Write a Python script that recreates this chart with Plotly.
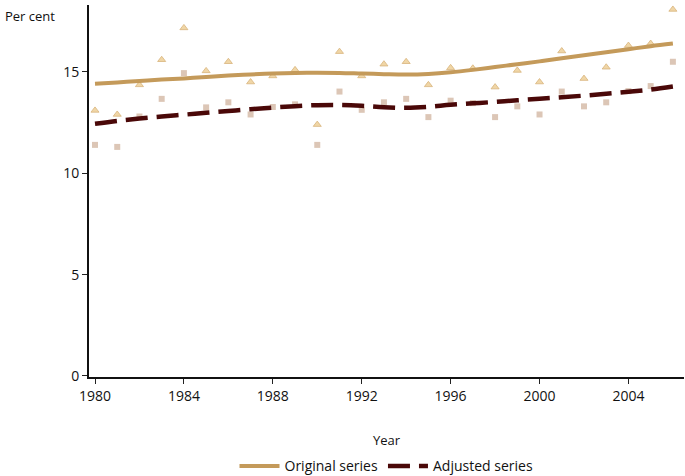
import plotly.graph_objects as go

years = list(range(1980, 2007))
original_points = [13.1, 12.9, 14.36, 15.6, 17.17, 15.05, 15.5, 14.5, 14.8, 15.1,
                   12.4, 16.0, 14.8, 15.38, 15.5, 14.36, 15.2, 15.18, 14.25, 15.07,
                   14.5, 16.03, 14.67, 15.23, 16.3, 16.4, 18.08]
adjusted_points = [11.4, 11.3, 12.8, 13.67, 14.94, 13.25, 13.5, 12.9, 13.27, 13.4,
                   11.4, 14.03, 13.13, 13.5, 13.67, 12.77, 13.58, 13.46, 12.77, 13.3,
                   12.9, 14.03, 13.3, 13.5, 14.05, 14.3, 15.5]
original_trend = [14.42, 14.48, 14.55, 14.62, 14.68, 14.75, 14.82, 14.87, 14.92, 14.95,
                  14.96, 14.95, 14.92, 14.89, 14.87, 14.9, 14.98, 15.1, 15.24, 15.38,
                  15.52, 15.67, 15.82, 15.97, 16.12, 16.27, 16.4]
adjusted_trend = [12.44, 12.58, 12.7, 12.8, 12.89, 12.98, 13.07, 13.16, 13.24, 13.31,
                  13.36, 13.37, 13.33, 13.26, 13.23, 13.28, 13.38, 13.45, 13.52, 13.6,
                  13.68, 13.75, 13.83, 13.92, 14.02, 14.13, 14.28]
x_ticks = [1980, 1984, 1988, 1992, 1996, 2000, 2004]
y_ticks = [0, 5, 10, 15]

FONT = "Open Sans"
fig = go.Figure()
fig.add_trace(go.Scatter(x=years, y=original_points, mode="markers", showlegend=False,
                         marker=dict(symbol="triangle-up", size=7, color="#f0d6a6",
                                     line=dict(color="#d8b47c", width=0.8))))
fig.add_trace(go.Scatter(x=years, y=adjusted_points, mode="markers", showlegend=False,
                         marker=dict(symbol="square", size=6, color="#dcc6b6",
                                     line=dict(width=0))))
fig.add_trace(go.Scatter(x=years, y=original_trend, mode="lines", name="Original series",
                         line=dict(color="#c49a5a", width=4, shape="spline")))
fig.add_trace(go.Scatter(x=years, y=adjusted_trend, mode="lines", name="Adjusted series",
                         line=dict(color="#4a0808", width=4.5, shape="spline",
                                   dash="22px,9px")))

fig.update_layout(
    width=685, height=476,
    margin=dict(l=89, r=1, t=5, b=99, autoexpand=False),
    paper_bgcolor="white", plot_bgcolor="white",
    font=dict(family=FONT, size=13, color="#111111"),
    showlegend=True,
    legend=dict(orientation="h", x=0.5, xanchor="center", y=-0.197, yanchor="top",
                font=dict(size=14), tracegroupgap=0, itemwidth=40),
    xaxis=dict(range=[1979.73, 2006.5], tickvals=x_ticks, ticks="outside", ticklen=5,
               tickwidth=1, tickcolor="#222", showline=True, linecolor="#111", linewidth=2,
               showgrid=False, zeroline=False, tickfont=dict(size=14),
               title=dict(text="Year", font=dict(size=13), standoff=32)),
    yaxis=dict(range=[-0.05, 18.3], tickvals=y_ticks, ticks="outside", ticklen=5,
               tickwidth=1, tickcolor="#222", showline=True, linecolor="#111", linewidth=2,
               showgrid=False, zeroline=False, tickfont=dict(size=14)),
    annotations=[dict(text="Per cent", xref="paper", yref="paper", x=-0.145, y=1.0,
                      xanchor="left", yanchor="top", showarrow=False,
                      font=dict(size=13))],
)
fig.write_html("out.html", config={"displayModeBar": False},
               post_script="document.body.style.margin='0';")
